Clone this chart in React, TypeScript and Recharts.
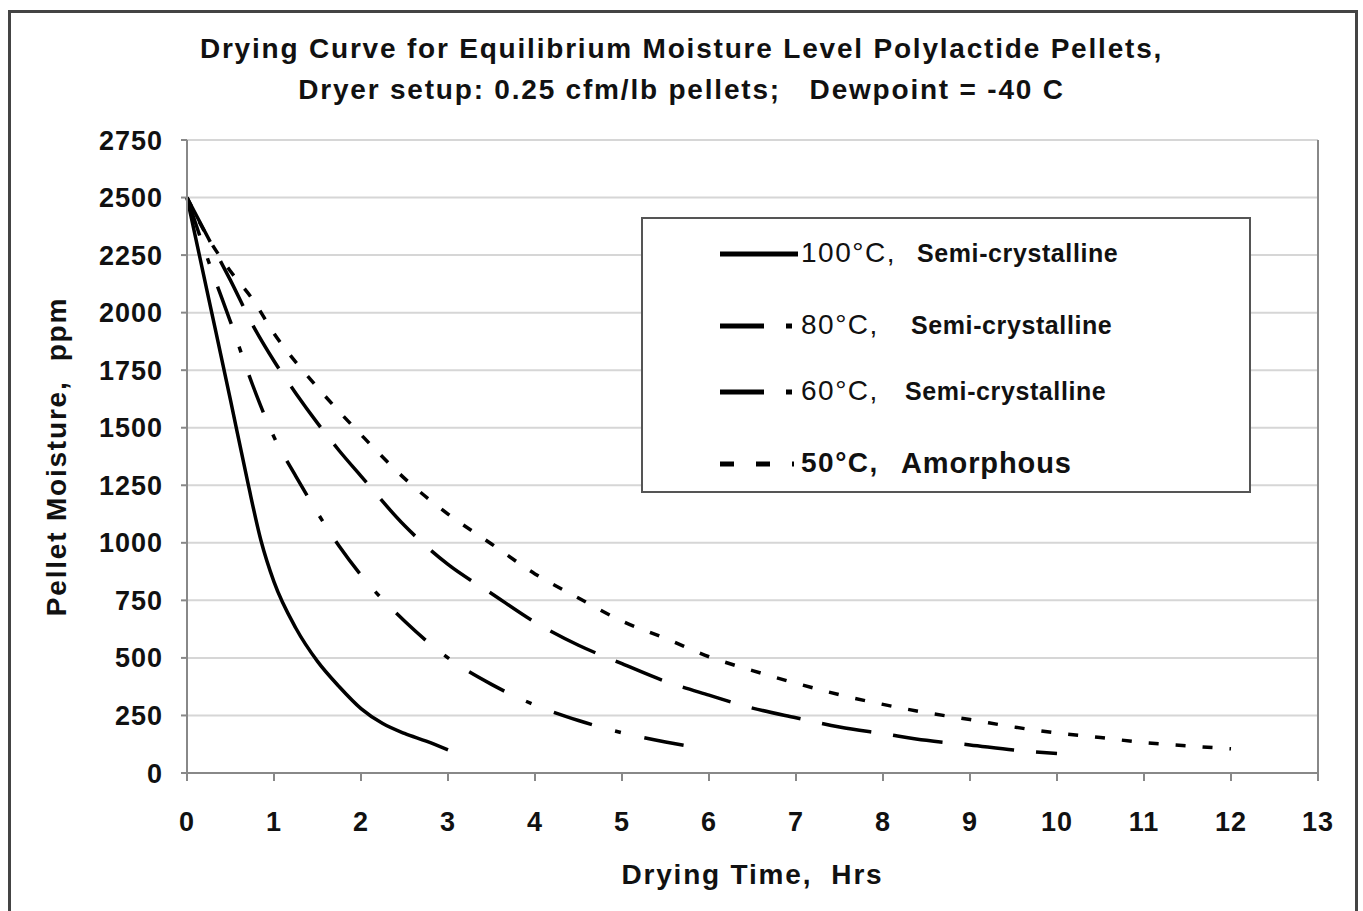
import React from "react";
import {
  LineChart,
  Line,
  XAxis,
  YAxis,
  CartesianGrid,
  ReferenceLine,
  Label,
} from "recharts";

// drying time (hrs) and pellet moisture (ppm)
const hours100 = [0, 0.25, 0.5, 0.7, 0.85, 1, 1.25, 1.5, 1.75, 2, 2.25, 2.5, 2.75, 3];
const ppm100 = [2500, 2060, 1620, 1260, 1010, 830, 630, 485, 375, 280, 215, 172, 138, 100];

const hours80 = [0, 0.25, 0.5, 0.75, 1, 1.25, 1.5, 1.75, 2, 2.5, 3, 3.5, 4, 4.5, 5, 5.5, 5.85];
const ppm80 = [2500, 2220, 1960, 1690, 1460, 1290, 1130, 985, 860, 660, 500, 385, 295, 228, 175, 135, 112];

const hours60 = [0, 0.25, 0.5, 0.75, 1, 1.25, 1.5, 1.75, 2, 2.5, 3, 3.5, 4, 4.5, 5, 5.5, 6, 6.5, 7, 7.5, 8, 8.5, 9, 9.5, 10];
const ppm60 = [2500, 2320, 2140, 1950, 1790, 1650, 1520, 1400, 1290, 1075, 906, 780, 655, 555, 475, 398, 338, 282, 240, 200, 171, 142, 122, 100, 85];

const hours50 = [0, 0.25, 0.5, 0.75, 1, 1.5, 2, 2.5, 3, 3.5, 4, 4.5, 5, 5.5, 6, 6.5, 7, 7.5, 8, 8.5, 9, 9.5, 10, 10.5, 11, 11.5, 12];
const ppm50 = [2500, 2320, 2180, 2060, 1910, 1675, 1470, 1280, 1125, 995, 865, 760, 660, 585, 505, 445, 390, 340, 298, 262, 232, 200, 174, 154, 132, 118, 105];

const xTicks = [0, 1, 2, 3, 4, 5, 6, 7, 8, 9, 10, 11, 12, 13];
const yTicks = [0, 250, 500, 750, 1000, 1250, 1500, 1750, 2000, 2250, 2500, 2750];

const legendTemps = ["100°C,", "80°C,", "60°C,", "50°C,"];
const legendKinds = ["Semi-crystalline", "Semi-crystalline", "Semi-crystalline", "Amorphous"];

const toPoints = (hrs: number[], ppm: number[]) => hrs.map((h, i) => ({ h, ppm: ppm[i] }));

const series = [
  { key: "s100", data: toPoints(hours100, ppm100), dash: undefined as string | undefined, legendDash: undefined as string | undefined },
  { key: "s80", data: toPoints(hours80, ppm80), dash: "40 24 6 24", legendDash: "44 22 6 30" },
  { key: "s60", data: toPoints(hours60, ppm60), dash: "50 22", legendDash: "44 22 6 30" },
  { key: "s50", data: toPoints(hours50, ppm50), dash: "10 17", legendDash: "14 22" },
];

const FONT = "'Liberation Sans', Arial, sans-serif";
const tickStyle = { fontSize: 27, fontWeight: 700, fill: "#111", fontFamily: FONT, letterSpacing: 1 };
const axisTitle = { fontSize: 28, fontWeight: 700, fill: "#111", fontFamily: FONT, letterSpacing: 1.8 };

function DryingLegend() {
  const rowTop = [18, 90, 156, 228];
  const kindLeft = [274, 268, 262, 258];
  return (
    <div
      style={{
        position: "absolute",
        left: 641,
        top: 217,
        width: 606,
        height: 272,
        border: "2px solid #555",
        background: "#fff",
        fontFamily: FONT,
        color: "#111",
      }}
    >
      {legendTemps.map((t, i) => (
        <div key={i} style={{ position: "absolute", left: 0, top: rowTop[i], width: "100%", height: 34 }}>
          <svg width={80} height={34} style={{ position: "absolute", left: 77, top: 0 }}>
            <line
              x1={0}
              x2={i === 3 ? 74 : 78}
              y1={17}
              y2={17}
              stroke="#000"
              strokeWidth={5}
              strokeDasharray={series[i].legendDash}
            />
          </svg>
          <span style={{ position: "absolute", left: 158, top: 0, fontSize: 28, letterSpacing: 1.5, fontWeight: i === 3 ? 700 : 400 }}>
            {t}
          </span>
          <span
            style={{
              position: "absolute",
              left: kindLeft[i],
              top: i === 3 ? 0 : 2,
              fontSize: i === 3 ? 29 : 25,
              letterSpacing: i === 3 ? 0.9 : 0.6,
              fontWeight: 700,
            }}
          >
            {legendKinds[i]}
          </span>
        </div>
      ))}
    </div>
  );
}

export default function App() {
  return (
    <div style={{ position: "absolute", left: 0, top: 0, width: 1363, height: 911, background: "#fff", overflow: "hidden" }}>
      <div
        style={{
          position: "absolute",
          left: 8,
          top: 10,
          width: 1344,
          height: 940,
          border: "3px solid #444",
        }}
      />
      <LineChart
        width={1363}
        height={911}
        margin={{ top: 140, right: 45, bottom: 108, left: 47 }}
        style={{ position: "absolute", left: 0, top: 0 }}
      >
        <CartesianGrid vertical={false} stroke="#d6d6d6" strokeWidth={2} />
        <XAxis
          type="number"
          dataKey="h"
          domain={[0, 13]}
          ticks={xTicks}
          interval={0}
          height={30}
          tickSize={8}
          tickMargin={31}
          axisLine={{ stroke: "#888", strokeWidth: 2 }}
          tickLine={{ stroke: "#888", strokeWidth: 2 }}
          tick={tickStyle}
        >
          <Label value={"Drying Time,\u00a0\u00a0Hrs"} position="bottom" offset={61} style={axisTitle} />
        </XAxis>
        <YAxis
          type="number"
          dataKey="ppm"
          domain={[0, 2750]}
          ticks={yTicks}
          interval={0}
          width={140}
          tickSize={6}
          tickMargin={18}
          axisLine={{ stroke: "#888", strokeWidth: 2 }}
          tickLine={{ stroke: "#888", strokeWidth: 2 }}
          tick={tickStyle}
        >
          <Label
            value={"Pellet Moisture,\u00a0\u00a0ppm"}
            angle={-90}
            position="insideLeft"
            offset={9}
            style={{ ...axisTitle, textAnchor: "middle" }}
          />
        </YAxis>
        <ReferenceLine x={13} stroke="#888" strokeWidth={2} />
        {series.map((s) => (
          <Line
            key={s.key}
            data={s.data}
            dataKey="ppm"
            type="monotone"
            stroke="#000"
            strokeWidth={3.5}
            strokeDasharray={s.dash}
            dot={false}
            activeDot={false}
            isAnimationActive={false}
          />
        ))}
      </LineChart>
      <div
        style={{
          position: "absolute",
          left: 0,
          width: 1363,
          top: 28,
          textAlign: "center",
          fontFamily: FONT,
          fontWeight: 700,
          fontSize: 28,
          letterSpacing: 1.8,
          lineHeight: "41px",
          color: "#111",
          whiteSpace: "pre",
        }}
      >
        {"Drying Curve for Equilibrium Moisture Level Polylactide Pellets,\nDryer setup: 0.25 cfm/lb pellets;   Dewpoint = -40 C"}
      </div>
      <DryingLegend />
    </div>
  );
}
